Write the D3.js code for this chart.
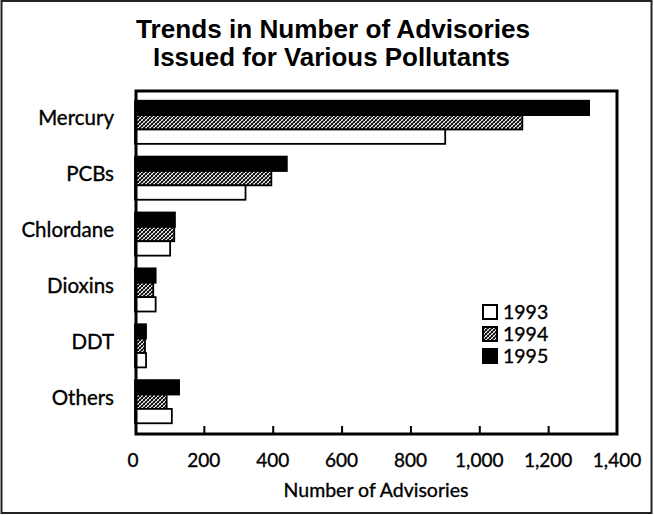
<!DOCTYPE html>
<html>
<head>
<meta charset="utf-8">
<script src="https://cdn.jsdelivr.net/npm/d3@7"></script>
<style>
  html, body { margin: 0; padding: 0; background: #fff; }
  svg { display: block; }
</style>
</head>
<body>
<div id="chart"></div>
<script>
const categories = ["Mercury", "PCBs", "Chlordane", "Dioxins", "DDT", "Others"];
const years = ["1995", "1994", "1993"];
const values1993 = [901, 321, 102, 60, 32, 107];
const values1994 = [1125, 396, 114, 53, 29, 92];
const values1995 = [1319, 441, 116, 60, 32, 128];
const xTicks = [0, 200, 400, 600, 800, 1000, 1200, 1400];
const titleLines = ["Trends in Number of Advisories", "Issued for Various Pollutants"];
const xTitle = "Number of Advisories";
const legendYears = ["1993", "1994", "1995"];

const seriesValues = { "1993": values1993, "1994": values1994, "1995": values1995 };

const W = 654, H = 515;
const frame = { left: 136, right: 617, top: 91, bottom: 434 };
const svg = d3.select("#chart").append("svg").attr("width", W).attr("height", H);

// patterns
const defs = svg.append("defs");
const pat = defs.append("pattern").attr("id", "hatch").attr("patternUnits", "userSpaceOnUse")
  .attr("width", 4).attr("height", 4);
pat.append("rect").attr("width", 4).attr("height", 4).attr("fill", "#fff");
pat.append("path").attr("d", "M-1,1 l2,-2 M0,4 l4,-4 M3,5 l2,-2").attr("stroke", "#000").attr("stroke-width", 1.3);
pat.append("path").attr("d", "M-1,3 l2,2 M0,0 l4,4 M3,-1 l2,2").attr("stroke", "#000").attr("stroke-width", 0.8);

const fills = { "1993": "#fff", "1994": "url(#hatch)", "1995": "#000" };

// outer border
svg.append("rect").attr("x", 1.5).attr("y", 1).attr("width", 650).attr("height", 512)
  .attr("fill", "none").attr("stroke", "#222").attr("stroke-width", 2);

// title
const fontSans = "'Liberation Sans', Arial, sans-serif";
const fontBody = "Lato, 'Open Sans', sans-serif";
const titleWidths = [394, 357];
const titleBase = [38, 66];
titleLines.forEach((t, i) => {
  svg.append("text").attr("x", 333 - (i ? 1.5 : 0)).attr("y", titleBase[i])
    .attr("text-anchor", "middle")
    .attr("font-family", fontSans).attr("font-weight", "bold").attr("font-size", 25)
    .attr("textLength", titleWidths[i]).attr("lengthAdjust", "spacingAndGlyphs")
    .text(t);
});

const x = d3.scaleLinear().domain([0, 1400]).range([frame.left - 1, frame.right]);
const y = d3.scaleBand().domain(categories).range([frame.top, frame.top + 6 * 57])
  .paddingInner(0.228).paddingOuter(0.114 + 0.06);
const yInner = d3.scaleBand().domain(years).range([0, y.bandwidth()]);

// bars
const g = svg.append("g");
categories.forEach((c, ci) => {
  years.forEach(yr => {
    const v = seriesValues[yr][ci];
    g.append("rect")
      .attr("x", x(0))
      .attr("y", y(c) + yInner(yr))
      .attr("width", x(v) - x(0))
      .attr("height", yInner.bandwidth())
      .attr("fill", fills[yr])
      .attr("stroke", "#000").attr("stroke-width", 1.8);
  });
});

// frame
svg.append("rect").attr("x", frame.left).attr("y", frame.top)
  .attr("width", frame.right - frame.left).attr("height", frame.bottom - frame.top)
  .attr("fill", "none").attr("stroke", "#000").attr("stroke-width", 3);

// x axis ticks (inside, pointing up)
const xAxis = d3.axisTop(x).tickValues(xTicks.slice(1, -1)).tickSize(8).tickFormat("");
const ax = svg.append("g").attr("transform", `translate(0,${frame.bottom})`).call(xAxis);
ax.select(".domain").remove();
ax.selectAll(".tick line").attr("stroke", "#000").attr("stroke-width", 2);

const heavy = sel => sel.attr("stroke", "#000").attr("stroke-width", 0.35).attr("fill", "#000");

// tick labels
const fmt = d3.format(",");
svg.append("g").selectAll("text").data(xTicks).join("text")
  .attr("x", d => x(d) - (d === 0 ? 2 : 0))
  .attr("y", 467)
  .attr("text-anchor", "middle")
  .attr("font-family", fontBody).attr("font-size", 19)
  .call(heavy)
  .text(d => fmt(d));

svg.append("text").attr("x", 376).attr("y", 497).attr("text-anchor", "middle")
  .attr("font-family", fontBody).attr("font-size", 19.5).call(heavy).text(xTitle);

// category labels
svg.append("g").selectAll("text").data(categories).join("text")
  .attr("x", 114)
  .attr("y", d => y(d) + y.bandwidth() / 2 + 3)
  .attr("text-anchor", "end")
  .attr("font-family", fontBody).attr("font-size", 20.5)
  .call(heavy)
  .text(d => d);

// legend
const legY = d3.scalePoint().domain(legendYears).range([312, 356]);
const leg = svg.append("g");
legendYears.forEach(yr => {
  leg.append("rect").attr("x", 483).attr("y", legY(yr) - 7).attr("width", 14).attr("height", 14)
    .attr("fill", fills[yr]).attr("stroke", "#000").attr("stroke-width", 2);
  leg.append("text").attr("x", 503).attr("y", legY(yr) + 7)
    .attr("font-family", fontBody).attr("font-size", 19.5).call(heavy).text(yr);
});
</script>
</body>
</html>
